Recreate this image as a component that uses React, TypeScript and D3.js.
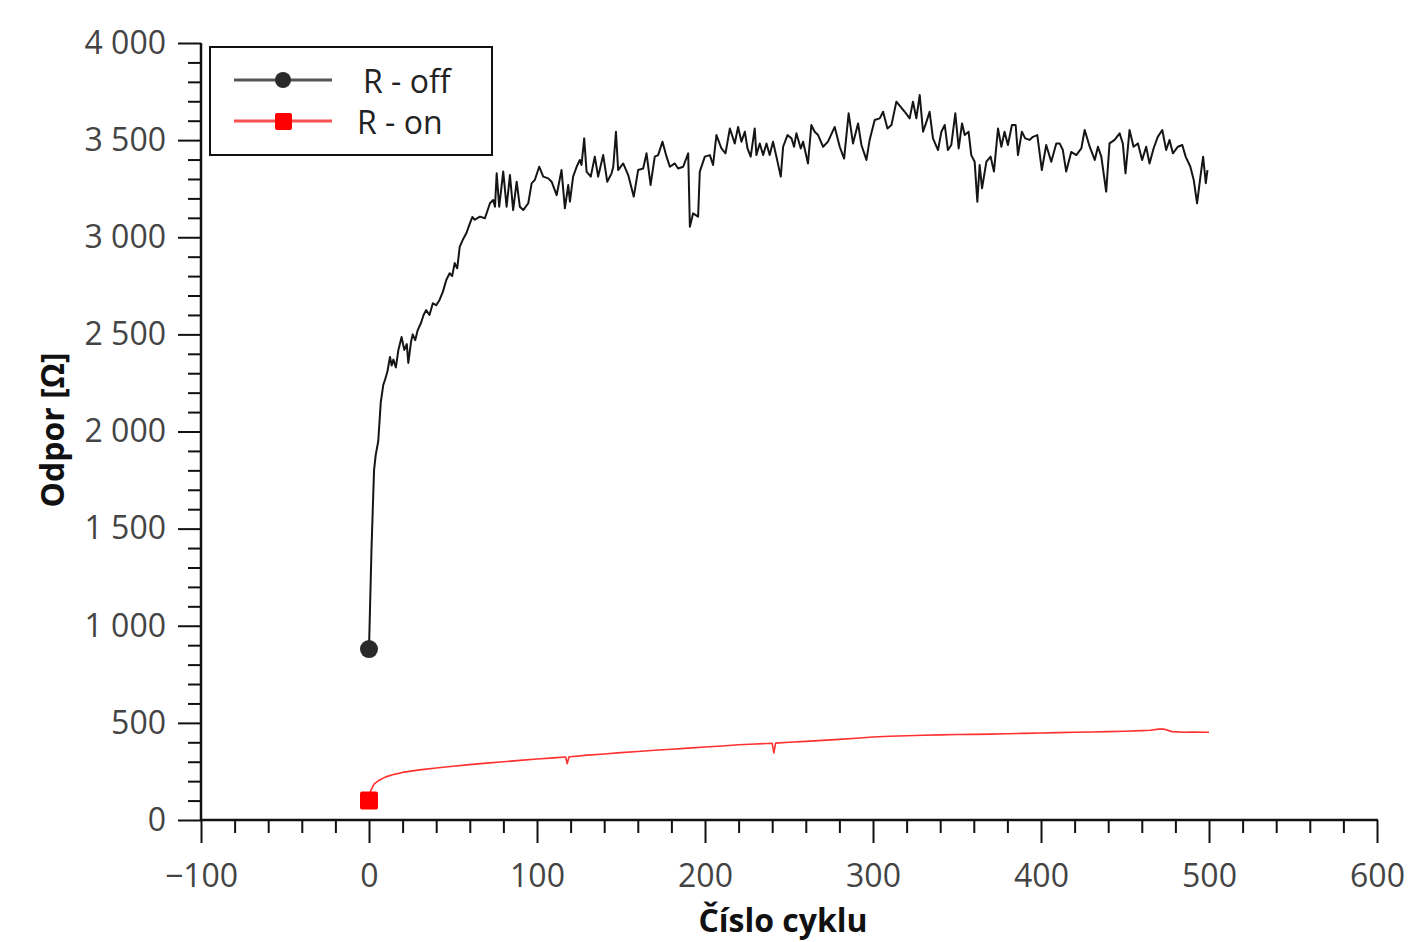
import React, { useEffect, useRef } from "react";
import * as d3 from "d3";

const offCycle = [0,1.5,3,4,5.5,7,8.5,9.5,11,12.5,13.5,14.5,16,17.5,19.4,21,22.5,23.4,25,26,27.5,29,31,32.5,34,36,38,40,42,44,46,48,49.5,51,52.5,54,56,58,60,61.5,63,
  66,69,72,73.9,75,76,77.5,79.9,81.9,83.9,85.8,87.9,89.8,91.8,94.8,96.8,98.7,101.3,103.7,106.7,108.7,111.7,114.6,116.6,118.6,119.6,121.5,123.6,125.5,126.5,128.1,129.5,132,134.4,136.4,139.4,141.8,144.4,145.4,147,148.3,151.3,154.3,157.6,160.2,163.2,165.2,167.6,170.1,172.1,174.7,177.1,179.1,182,184,187,190,191,192.9,195.9,
  196.9,199.9,202.9,204.8,206.8,209.8,212.2,214.8,217.7,219.7,221.7,223.7,225.3,227.2,229.6,230.6,232.6,234.6,236.6,238.5,240.5,242.5,245.1,246.5,249.1,251.5,253,254.4,257,258.4,261.3,263.3,265.3,267.3,270.3,273.2,277.2,280.2,282.8,285.5,288.1,291.1,293.1,296.1,298,301,304,306,308.6,311,313.9,
  318.9,321.8,323.8,325.8,327.8,329.8,331.8,333.7,335.7,338.7,340.7,342.7,344.6,346.6,349,351,353,354.6,356.9,358.5,360.5,362.1,363.5,364.9,367.5,370,372,374.4,376.4,378.3,380.3,382.7,384.9,386.3,388.6,390.6,393.2,395.2,397.8,400.5,403.1,406.1,409.1,
  411.1,413,415,418,421,424,426,429,432,433.9,435.9,438.8,440.8,443.8,446.8,448.7,450.3,452.7,455.1,457.7,460.2,462.6,464.6,467,469.5,472.2,474.5,476.5,478.5,481.5,484.1,486.1,488.9,490.9,492.9,494.9,496.5,498.1,499.1];
const offOhm = [880,1400,1800,1880,1950,2150,2240,2265,2310,2384,2340,2370,2330,2420,2486,2420,2450,2353,2460,2500,2470,2522,2560,2600,2625,2600,2660,2650,2677,2720,2780,2815,2800,2867,2840,2950,2990,3022,3070,3104,3090,
  3106,3098,3175,3192,3157,3329,3157,3338,3157,3320,3140,3286,3157,3140,3175,3277,3295,3363,3312,3303,3286,3217,3346,3149,3269,3183,3312,3363,3398,3372,3509,3338,3312,3415,3312,3423,3286,3329,3363,3543,3346,3380,3320,3209,3346,3354,3432,3269,3415,3423,3492,3415,3363,3380,3354,3363,3432,3054,3123,3106,
  3338,3415,3423,3372,3526,3457,3432,3560,3483,3568,3492,3543,3457,3415,3560,3423,3483,3423,3483,3423,3492,3415,3312,3466,3526,3509,3466,3535,3457,3492,3380,3578,3543,3526,3466,3492,3568,3466,3405,3638,3483,3586,3475,3398,3501,3604,3612,3646,3560,3578,3698,
  3646,3612,3698,3612,3732,3543,3594,3646,3509,3449,3543,3578,3449,3475,3638,3457,3586,3526,3543,3423,3389,3183,3372,3252,3389,3415,3338,3560,3466,3543,3475,3578,3578,3423,3543,3509,3501,3517,3526,3346,3475,3389,3483,
  3483,3449,3338,3439,3423,3457,3552,3466,3398,3466,3415,3235,3483,3501,3535,3483,3329,3552,3466,3483,3398,3466,3380,3457,3517,3552,3449,3501,3432,3466,3475,3415,3363,3295,3175,3312,3415,3278,3346];

const onCycle = [0,1,3,6,10,15,20,30,40,50,60,70,80,90,100,110,117,118,119,120,130,140,150,160,170,180,190,200,210,220,230,240,241,242,250,260,270,280,290,300,310,320,330,340,350,360,370,380,390,400,410,420,430,440,450,460,465,470,473,478,485,490,500];
const onOhm = [100,150,185,205,222,235,245,258,268,277,285,293,300,307,314,320,324,290,324,326,334,340,347,353,359,364,370,376,381,387,391,395,345,396,400,405,410,415,421,427,431,434,436,438,440,441,442,444,446,448,450,452,453,455,457,460,462,468,468,455,452,453,452];

const xMajorTicks = [-100, 0, 100, 200, 300, 400, 500, 600];
const yMajorTicks = [0, 500, 1000, 1500, 2000, 2500, 3000, 3500, 4000];
const seriesNames = ["R - off", "R - on"];
const xTitle = "Číslo cyklu";
const yTitle = "Odpor [Ω]";

export default function App() {
  const ref = useRef<SVGSVGElement>(null);
  useEffect(() => {
    const svg = d3.select(ref.current);
    svg.selectAll("*").remove();
    const font = "'Open Sans', 'Noto Sans', sans-serif";
    const x = d3.scaleLinear().domain([-100, 600]).range([201, 1377]);
    const y = d3.scaleLinear().domain([0, 4000]).range([820, 43]);
    const loc = d3.formatLocale({ decimal: ",", thousands: " ", grouping: [3], currency: ["", ""], minus: "\u2212" });
    const fmt = loc.format(",d");

    const xMinor = d3.range(-100, 601, 20).filter((v) => !xMajorTicks.includes(v));
    const yMinor = d3.range(0, 4001, 100).filter((v) => !yMajorTicks.includes(v));

    const styleAxis = (g: any) => {
      g.select(".domain").remove();
      g.selectAll("line").attr("stroke", "#111").attr("stroke-width", 2);
      g.selectAll("text").attr("font-family", font).attr("font-size", 32).attr("fill", "#444");
    };

    svg.append("g").attr("transform", "translate(201,0)")
      .call(d3.axisLeft(y).tickValues(yMinor).tickSize(13).tickFormat(() => ""))
      .call(styleAxis);
    svg.append("g").attr("transform", "translate(201,0)")
      .call(d3.axisLeft(y).tickValues(yMajorTicks).tickSize(23).tickPadding(12).tickFormat((d: any) => fmt(d)))
      .call(styleAxis);
    svg.append("g").attr("transform", "translate(0,820)")
      .call(d3.axisBottom(x).tickValues(xMinor).tickSize(13).tickFormat(() => ""))
      .call(styleAxis);
    svg.append("g").attr("transform", "translate(0,820)")
      .call(d3.axisBottom(x).tickValues(xMajorTicks).tickSize(23).tickPadding(21).tickFormat((d: any) => fmt(d)))
      .call(styleAxis);

    svg.append("line").attr("x1", 201).attr("x2", 201).attr("y1", y(4000)).attr("y2", y(0) + 1)
      .attr("stroke", "#111").attr("stroke-width", 2.5);
    svg.append("line").attr("x1", x(-100) - 1).attr("x2", x(600) + 1).attr("y1", 820).attr("y2", 820)
      .attr("stroke", "#111").attr("stroke-width", 2.5);

    const offData = offCycle.map((c, i) => [c, offOhm[i]] as [number, number]);
    const onData = onCycle.map((c, i) => [c, onOhm[i]] as [number, number]);
    const line = d3.line<[number, number]>().x((d) => x(d[0])).y((d) => y(d[1]));

    svg.append("path").attr("d", line(onData)).attr("fill", "none")
      .attr("stroke", "#ff3030").attr("stroke-width", 1.6).attr("stroke-linejoin", "round");
    svg.append("path").attr("d", line(offData)).attr("fill", "none")
      .attr("stroke", "#151515").attr("stroke-width", 2).attr("stroke-linejoin", "round");

    svg.append("circle").attr("cx", x(offData[0][0])).attr("cy", y(offData[0][1])).attr("r", 9).attr("fill", "#2a2a2a");
    svg.append("rect").attr("x", x(onData[0][0]) - 9).attr("y", y(onData[0][1]) - 9)
      .attr("width", 18).attr("height", 18).attr("rx", 2).attr("fill", "#ff0000");

    // legend
    const lg = svg.append("g");
    lg.append("rect").attr("x", 210).attr("y", 47).attr("width", 282).attr("height", 108)
      .attr("fill", "white").attr("stroke", "#111").attr("stroke-width", 2);
    lg.append("line").attr("x1", 234).attr("x2", 332).attr("y1", 80).attr("y2", 80)
      .attr("stroke", "#555").attr("stroke-width", 3);
    lg.append("circle").attr("cx", 283).attr("cy", 80).attr("r", 8).attr("fill", "#2a2a2a");
    lg.append("line").attr("x1", 234).attr("x2", 332).attr("y1", 121).attr("y2", 121)
      .attr("stroke", "#ff5050").attr("stroke-width", 3);
    lg.append("rect").attr("x", 275).attr("y", 113).attr("width", 17).attr("height", 17).attr("rx", 2).attr("fill", "#ff0000");
    lg.append("text").attr("x", 363).attr("y", 93).text(seriesNames[0])
      .attr("font-family", font).attr("font-size", 32).attr("fill", "#222");
    lg.append("text").attr("x", 357).attr("y", 134).text(seriesNames[1])
      .attr("font-family", font).attr("font-size", 32).attr("fill", "#222");

    svg.append("text").attr("x", 783).attr("y", 932).attr("text-anchor", "middle").text(xTitle)
      .attr("font-family", font).attr("font-size", 32).attr("font-weight", "bold").attr("fill", "#111");
    svg.append("text").attr("transform", "translate(64,430) rotate(-90)").attr("text-anchor", "middle").text(yTitle)
      .attr("font-family", font).attr("font-size", 32).attr("font-weight", "bold").attr("fill", "#111");
  }, []);

  return (
    <svg ref={ref} width={1419} height={942}
      style={{ position: "absolute", left: 0, top: 0, background: "white", display: "block" }} />
  );
}
